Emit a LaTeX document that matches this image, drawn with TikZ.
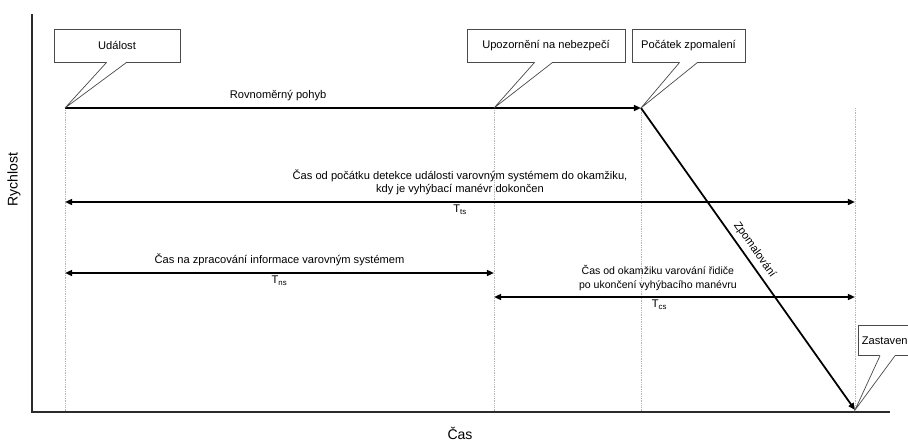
\documentclass[tikz,border=0pt]{standalone}
\usepackage{fontspec}
\setmainfont{Liberation Sans}
\usepackage{tikz}
\usetikzlibrary{arrows.meta, positioning, calc}
\definecolor{axisgray}{HTML}{2B2B2B}
\definecolor{calloutgray}{HTML}{4A4A4A}
\definecolor{guidegray}{HTML}{B5B5B5}

\begin{document}
\begin{tikzpicture}[x=0.03cm, y=-0.03cm,
    txt/.style={font=\fontsize{9.5}{11.5}\selectfont, inner sep=2pt},
    axislabel/.style={font=\fontsize{12}{14}\selectfont, inner sep=1pt},
    callout/.style={draw=calloutgray, line width=0.6pt, fill=white, txt, minimum height=0.99cm},
    pointer/.style={draw=calloutgray, line width=0.6pt},
    guide/.style={guidegray, densely dotted, line width=0.5pt},
    motion/.style={black, line width=1.5pt, -{Triangle[length=6pt,width=5pt]}},
    span/.style={black, line width=1.5pt, {Triangle[length=6pt,width=5pt]}-{Triangle[length=6pt,width=5pt]}},
    axis/.style={axisgray, line width=1.5pt}]
    \useasboundingbox (0,0) rectangle (908,441);

    % Axes
    \coordinate (origin) at (32,412);
    \coordinate (ytop) at (32,14);
    \coordinate (xend) at (890,412);
    \draw[axis] (ytop) -- (origin) -- (xend);
    \node[axislabel, rotate=90] (rychlost) at (14,180) {Rychlost};
    \node[axislabel] (cas) at (460,433) {Čas};

    % Key moments on the speed curve
    \coordinate (udalost) at (65,108);
    \coordinate (upozorneni) at (494,108);
    \coordinate (pocatek) at (641,108);
    \coordinate (zastaveni) at (855,410);

    % Dotted guides
    \foreach \p in {udalost, upozorneni, pocatek}
        \draw[guide] (\p) -- (\p |- origin);
    \draw[guide] (zastaveni |- pocatek) -- (zastaveni);

    % Speed profile
    \draw[motion] (udalost) -- node[txt, above=3pt, pos=0.37] (rovnomerny) {Rovnoměrný pohyb} (pocatek);
    \draw[motion] (pocatek) -- node[txt, sloped, above=2pt, pos=0.49] (zpomalovani) {Zpomalování} (zastaveni);

    % Time spans
    \coordinate (tsL) at (65,202);
    \coordinate (tsR) at (855,202);
    \coordinate (nsL) at (65,273);
    \coordinate (nsR) at (494,273);
    \coordinate (csL) at (494,297);
    \coordinate (csR) at (855,297);
    \draw[span] (tsL) -- node[txt, above=3pt, align=center] (tstext) {Čas od počátku detekce události varovným systémem do okamžiku,\\kdy je vyhýbací manévr dokončen}
        node[txt, below] (tsname) {T\textsubscript{ts}} (tsR);
    \draw[span] (nsL) -- node[txt, above=3pt] (nstext) {Čas na zpracování informace varovným systémem}
        node[txt, below] (nsname) {T\textsubscript{ns}} (nsR);
    \draw[span] (csL) -- node[txt, font=\fontsize{9}{11.5}\selectfont, above=3pt, align=center, xshift=-0.5cm] (cstext) {Čas od okamžiku varování řidiče\\po ukončení vyhýbacího manévru}
        node[txt, below, xshift=-0.45cm] (csname) {T\textsubscript{cs}} (csR);

    % Callouts
    \node[callout, minimum width=3.78cm] (udalostbox) at (117,45.5) {Událost};
    \node[callout, minimum width=4.74cm] (upozornenibox) at (546,45.5) {Upozornění na nebezpečí};
    \node[callout, minimum width=3.39cm] (pocatekbox) at (688.5,45.5) {Počátek zpomalení};
    \node[callout, anchor=north west, minimum height=0.9cm, text width=2cm, align=left, inner xsep=3pt] (zastavenibox) at (858,325) {Zastavení};
    \foreach \bx/\tip/\a/\b in {udalostbox/udalost/53/73, upozornenibox/upozorneni/68/86,
                               pocatekbox/pocatek/48/66, zastavenibox/zastaveni/22/37} {
        \fill[white] ($(\bx.south west)+(\a,-0.5)$) -- (\tip) -- ($(\bx.south west)+(\b,-0.5)$) -- cycle;
        \draw[pointer] ($(\bx.south west)+(\a,0)$) -- (\tip) -- ($(\bx.south west)+(\b,0)$);
    }
\end{tikzpicture}
\end{document}
